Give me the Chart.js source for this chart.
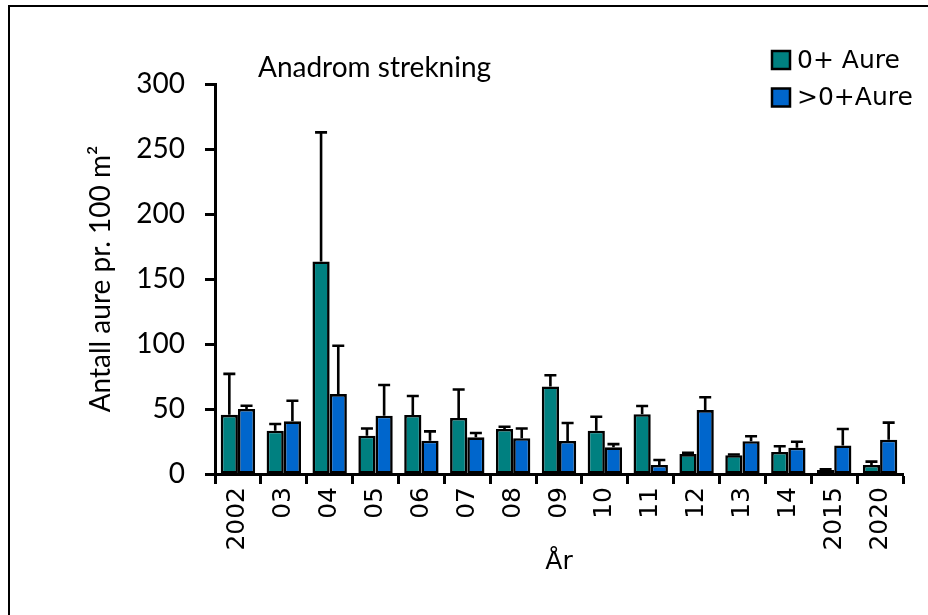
<!DOCTYPE html>
<html>
<head>
<meta charset="utf-8">
<script src="https://cdn.jsdelivr.net/npm/chart.js@4.4.1/dist/chart.umd.min.js"></script>
<style>
  html, body { margin: 0; padding: 0; background: #ffffff; }
  #wrap { width: 928px; height: 615px; position: relative; }
  canvas { display: block; }
</style>
</head>
<body>
<div id="wrap"><canvas id="c" width="928" height="615"></canvas></div>
<script>
// ---- data ----
const categories = ['2002','03','04','05','06','07','08','09','10','11','12','13','14','2015','2020'];
const seriesNames = ['0+ Aure', '>0+Aure'];
const aure0 = [45.5, 33.3, 163.5, 29.5, 45.4, 43.1, 34.6, 67.3, 33.3, 46.0, 15.3, 14.5, 17.0, 3.0, 7.0];
const aure0Err = [31.5, 5.2, 99.3, 5.5, 14.6, 21.9, 1.8, 8.7, 10.7, 6.3, 1.0, 0.5, 4.4, 0.6, 2.5];
const aure1 = [50.0, 40.5, 61.5, 44.8, 25.6, 28.2, 27.5, 25.4, 20.5, 7.0, 49.2, 25.2, 20.2, 22.0, 26.4];
const aure1Err = [2.5, 15.9, 37.2, 23.7, 7.2, 3.3, 7.5, 13.8, 2.5, 3.8, 9.8, 3.8, 4.6, 12.6, 13.1];
const yTicks = [0, 50, 100, 150, 200, 250, 300];
const chartTitle = 'Anadrom strekning';
const yTitle = 'Antall aure pr. 100 m²';
const xTitle = 'År';

const calFont = 'Lato, "Open Sans", sans-serif';
const djFont = '"DejaVu Sans", sans-serif';

const errorBars = {
  id: 'errorBars',
  afterDatasetsDraw(chart) {
    const ctx = chart.ctx;
    const y = chart.scales.y;
    ctx.save();
    ctx.strokeStyle = '#000';
    ctx.lineWidth = 2.6;
    chart.data.datasets.forEach((ds, di) => {
      const meta = chart.getDatasetMeta(di);
      meta.data.forEach((bar, i) => {
        const v = ds.data[i], e = ds.errUp[i];
        if (!e) return;
        const y0 = y.getPixelForValue(v);
        const y1 = y.getPixelForValue(v + e);
        ctx.beginPath();
        ctx.moveTo(bar.x, y0);
        ctx.lineTo(bar.x, y1);
        ctx.moveTo(bar.x - 6, y1);
        ctx.lineTo(bar.x + 6, y1);
        ctx.stroke();
      });
    });
    ctx.restore();
  }
};

const decorations = {
  id: 'decorations',
  beforeDraw(chart) {
    const ctx = chart.ctx;
    ctx.save();
    ctx.fillStyle = '#fff';
    ctx.fillRect(0, 0, chart.width, chart.height);
    ctx.strokeStyle = '#000';
    ctx.lineWidth = 2;
    ctx.beginPath();
    ctx.moveTo(9, 615);
    ctx.lineTo(9, 6);
    ctx.lineTo(928, 6);
    ctx.stroke();
    ctx.restore();
  },
  afterDraw(chart) {
    const ctx = chart.ctx;
    ctx.save();
    ctx.fillStyle = '#000';
    ctx.font = '28px ' + calFont;
    ctx.textBaseline = 'alphabetic';
    ctx.textAlign = 'left';
    ctx.fillText(chartTitle, 258, 77);
    ctx.font = '25px ' + djFont;
    ctx.textBaseline = 'middle';
    chart.data.datasets.forEach((ds, i) => {
      const cy = 60 + i * 37.5;
      ctx.fillStyle = ds.backgroundColor;
      ctx.fillRect(772, cy - 9, 18, 18);
      ctx.strokeStyle = '#000';
      ctx.lineWidth = 2.5;
      ctx.strokeRect(772, cy - 9, 18, 18);
      ctx.fillStyle = '#000';
      ctx.fillText(ds.label, 797, cy + 1);
    });
    ctx.restore();
  }
};

new Chart(document.getElementById('c'), {
  type: 'bar',
  data: {
    labels: categories,
    datasets: [
      { label: seriesNames[0], data: aure0, errUp: aure0Err, backgroundColor: '#008080', borderColor: '#000', borderWidth: 2.6, borderSkipped: false, categoryPercentage: 0.75, barPercentage: 1.0 },
      { label: seriesNames[1], data: aure1, errUp: aure1Err, backgroundColor: '#0066CC', borderColor: '#000', borderWidth: 2.6, borderSkipped: false, categoryPercentage: 0.75, barPercentage: 1.0 }
    ]
  },
  options: {
    responsive: false,
    animation: false,
    devicePixelRatio: 1,
    layout: { padding: { left: 0, right: 25, top: 84, bottom: 0 } },
    plugins: { legend: { display: false }, tooltip: { enabled: false }, title: { display: false } },
    scales: {
      x: {
        grid: { display: true, drawOnChartArea: false, drawTicks: true, tickLength: 10, tickWidth: 3, tickColor: '#000', offset: true },
        border: { display: true, color: '#000', width: 3 },
        ticks: { color: '#000', font: { family: djFont, size: 25 }, minRotation: 90, maxRotation: 90, padding: 3, autoSkip: false },
        title: { display: true, text: xTitle, color: '#000', font: { family: djFont, size: 25 }, padding: { top: 0, bottom: 38 } },
        afterFit(s) { s.height = 141; }
      },
      y: {
        min: 0, max: 300,
        afterBuildTicks(s) { s.ticks = yTicks.map(v => ({ value: v })); },
        grid: { display: true, drawOnChartArea: false, drawTicks: true, tickLength: 10, tickWidth: 3, tickColor: '#000' },
        border: { display: true, color: '#000', width: 3 },
        ticks: { color: '#000', font: { family: calFont, size: 28 }, padding: 20 },
        title: { display: true, text: yTitle, color: '#000', font: { family: calFont, size: 28 }, padding: { top: 84, bottom: 0 } },
        afterFit(s) { s.width = 215; }
      }
    }
  },
  plugins: [decorations, errorBars]
});
</script>
</body>
</html>
